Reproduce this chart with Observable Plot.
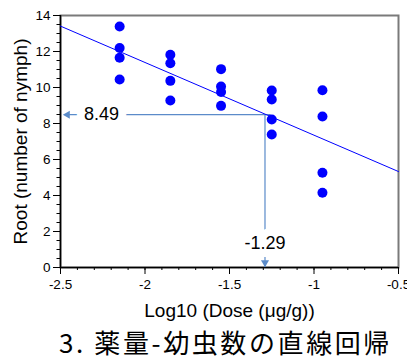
<!DOCTYPE html>
<html><head><meta charset="utf-8">
<script src="https://cdn.jsdelivr.net/npm/d3@7"></script>
<script src="https://cdn.jsdelivr.net/npm/@observablehq/plot@0.6"></script>
<style>body{margin:0;background:#fff;}</style>
</head><body><div id="chart"></div>
<script>
const doseLog = [-2.15,-2.15,-2.15,-2.15, -1.85,-1.85,-1.85,-1.85, -1.55,-1.55,-1.55,-1.55, -1.25,-1.25,-1.25,-1.25, -0.95,-0.95,-0.95,-0.95];
const nymphRoot = [13.39,12.19,11.65,10.44, 11.82,11.35,10.37,9.28, 11.02,10.05,9.75,8.98, 9.83,9.33,8.22,7.39, 9.85,8.39,5.26,4.15];
const xDomain = [-2.5, -0.5];
const yDomain = [0, 14];
const xTicks = [-2.5, -2, -1.5, -1, -0.5];
const xTickLabels = ["-2.5", "-2", "-1.5", "-1", "-0.5"];
const yTicks = [0, 2, 4, 6, 8, 10, 12, 14];
const xMinor = d3.range(-25, -4, 1).map(d => d / 10);
const yMinor = d3.range(0, 29, 1).map(d => d / 2);
const fitX = [-2.5, -0.5];
const fitY = [13.41, 5.33];
const estX = [-1.29];
const estY = [8.49];
const yLabel = "Root (number of nymph)";
const xLabel = "Log10 (Dose (μg/g))";
const caption = "3. 薬量-幼虫数の直線回帰";

const points = doseLog.map((x, i) => ({x, y: nymphRoot[i]}));
const fit = fitX.map((x, i) => ({x, y: fitY[i]}));
const annColor = "#5b8bc9";
const font = "Liberation Sans, Arial, sans-serif";

const chart = Plot.plot({
  width: 407, height: 357,
  marginLeft: 60, marginRight: 9, marginTop: 15, marginBottom: 90,
  style: {fontFamily: font, background: "#fff", overflow: "visible"},
  x: {domain: xDomain},
  y: {domain: yDomain},
  marks: [
    Plot.frame({stroke: "#7a7a7a", strokeWidth: 2}),
    Plot.axisX(xMinor, {tickSize: 3, text: null, label: null, stroke: "#000"}),
    Plot.axisX(xTicks, {tickSize: 7, tickPadding: 5, fontSize: 13.5, tickFormat: (d, i) => xTickLabels[i], label: null, stroke: "#000", fill: "#000"}),
    Plot.axisY(yMinor, {tickSize: 3.5, text: null, label: null, stroke: "#000"}),
    Plot.axisY(yTicks, {tickSize: 7, tickPadding: 3, fontSize: 13.5, label: null, stroke: "#000", fill: "#000"}),
    Plot.ruleX([xDomain[0]], {stroke: "#000", strokeWidth: 1.5}),
    Plot.ruleY([yDomain[0]], {stroke: "#000", strokeWidth: 1.5}),
    // annotation lines
    Plot.ruleY(estY, {y: d => d, x1: xDomain[0], x2: estX[0], stroke: annColor, strokeWidth: 1.2, dx: 6}),
    Plot.ruleX(estX, {x: d => d, y1: yDomain[0], y2: estY[0], stroke: annColor, strokeWidth: 1.2}),
    Plot.dot(estY, {y: d => d, frameAnchor: "left", dx: 7, symbol: "triangle", r: 3, rotate: -90, fill: annColor, stroke: "none"}),
    Plot.dot(estX, {x: d => d, frameAnchor: "bottom", dy: -5, symbol: "triangle", r: 3, rotate: 180, fill: annColor, stroke: "none"}),
    Plot.text(estY, {y: d => d, frameAnchor: "left", dx: 41, textAnchor: "middle", lineAnchor: "middle", text: d => d.toFixed(2), fontSize: 18, fill: "#000", stroke: "#fff", strokeWidth: 16}),
    Plot.text(estX, {x: d => d, frameAnchor: "bottom", dy: -24, textAnchor: "middle", lineAnchor: "middle", text: d => d.toFixed(2), fontSize: 18, fill: "#000", stroke: "#fff", strokeWidth: 16}),
    // regression line
    Plot.line(fit, {x: "x", y: "y", stroke: "#0000ff", strokeWidth: 1}),
    // data points
    Plot.dot(points, {x: "x", y: "y", r: 5, fill: "#0000ff", stroke: "none"}),
    // labels
    Plot.text([yLabel], {text: d => d, frameAnchor: "left", dx: -40, rotate: -90, textAnchor: "middle", lineAnchor: "middle", fontSize: 19, fill: "#000"}),
    Plot.text([xLabel], {text: d => d, frameAnchor: "bottom", dy: 43, textAnchor: "middle", lineAnchor: "middle", fontSize: 19, fill: "#000"}),
    Plot.text([caption], {text: d => d, frameAnchor: "bottom", dy: 77.5, dx: -4, textAnchor: "middle", lineAnchor: "middle", fontSize: 26, fill: "#000", fontFamily: "Noto Sans CJK JP"})
  ]
});
d3.select(chart).selectAll("text").filter(function() { return this.textContent === caption; })
  .style("letter-spacing", "2.6px");
document.getElementById("chart").appendChild(chart);
</script>
</body></html>
